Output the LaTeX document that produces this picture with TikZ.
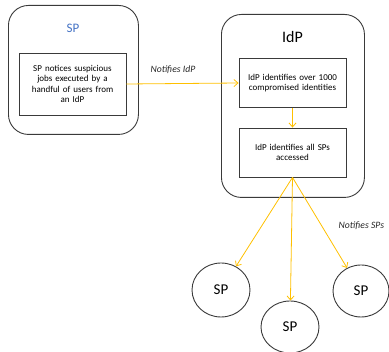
\documentclass[tikz,border=0pt]{standalone}
\usepackage{fontspec}
\setmainfont{Carlito}
\usetikzlibrary{shapes.geometric,arrows.meta}
\definecolor{arrowc}{HTML}{FFC000}
\definecolor{linec}{HTML}{3A3A3A}
\definecolor{titleblue}{HTML}{4472C4}
\tikzset{
  outerbox/.style={draw=linec, line width=0.9pt, rounded corners=20pt},
  innerbox/.style={draw=linec, line width=0.9pt, align=center, font=\fontsize{9}{10.6}\selectfont, inner sep=0pt},
  spnode/.style={ellipse, draw=linec, line width=0.9pt, font=\fontsize{15}{18}\selectfont, inner sep=0pt},
  flow/.style={draw=arrowc, line width=0.8pt, -{Straight Barb[length=4pt,width=7pt]}},
  lbl/.style={font=\fontsize{9.7}{11}\selectfont\itshape, text=black!85},
}
\begin{document}
\begin{tikzpicture}[x=1pt,y=-1pt]
\useasboundingbox (0,0) rectangle (389,352);
% SP outer
\node[outerbox, minimum width=130pt, minimum height=129pt, anchor=north west] (spout) at (8,5) {};
\node[font=\fontsize{13}{15}\selectfont, text=titleblue] (sptitle) at (73,28) {SP};
\node[innerbox, minimum width=107pt, minimum height=62pt, text width=104pt] (spin) at (72.5,84) {SP notices suspicious\\jobs executed by a\\handful of users from\\an IdP};
% IdP outer
\node[outerbox, minimum width=143pt, minimum height=183pt, anchor=north west] (idpout) at (221,14) {};
\node[font=\fontsize{16}{19}\selectfont] (idptitle) at (292.5,37) {IdP};
\node[innerbox, minimum width=107pt, minimum height=49pt, text width=104pt] (b1) at (292.5,83) {IdP identifies over 1000\\compromised identities};
\node[innerbox, minimum width=107pt, minimum height=49pt, text width=104pt] (b2) at (292.5,152.5) {IdP identifies all SPs\\accessed};
% SP circles
\node[spnode, minimum width=58pt, minimum height=54pt] (c1) at (221,290) {SP};
\node[spnode, minimum width=58pt, minimum height=52pt] (c2) at (290,327) {SP};
\node[spnode, minimum width=56pt, minimum height=52pt] (c3) at (361,291) {SP};
% arrows
\draw[flow] (spin.east) -- (b1.west);
\draw[flow] (b1.south) -- (b2.north);
\draw[flow] (b2.south) -- (c1);
\draw[flow] (b2.south) -- (c2);
\draw[flow] (b2.south) -- (c3);
% labels
\node[lbl] (l1) at (173,70) {Notifies IdP};
\node[lbl] (l2) at (361.5,226) {Notifies SPs};
\end{tikzpicture}
\end{document}
